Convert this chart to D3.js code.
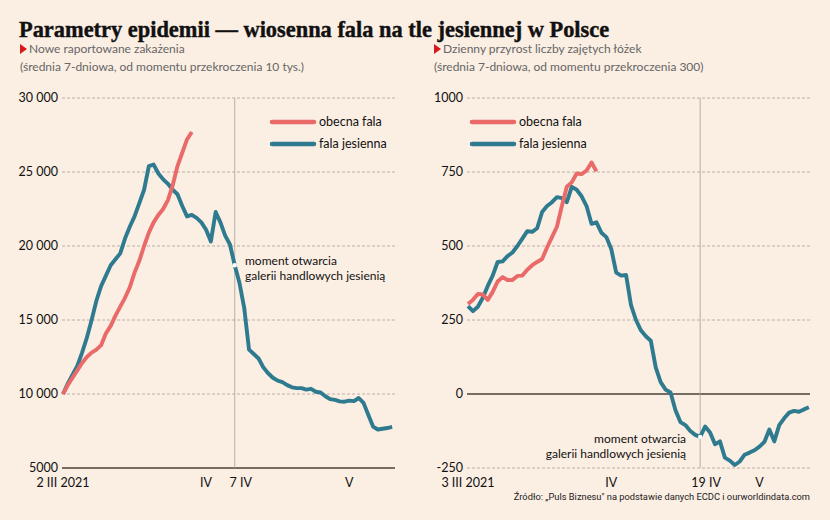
<!DOCTYPE html>
<html>
<head>
<meta charset="utf-8">
<script src="https://cdn.jsdelivr.net/npm/d3@7"></script>
<style>
  body { margin: 0; background: #fbeee3; }
  text { font-family: Lato, 'Noto Sans', sans-serif; }
</style>
</head>
<body>
<div id="chart"></div>
<script>
// daily values, 7-day average, from the day the threshold was crossed
const casesSpring = [10000, 10600, 11100, 11600, 12100, 12500, 12800, 13000, 13300, 14100,
  14600, 15300, 15900, 16500, 17200, 18200, 19000, 20000, 20900, 21600,
  22100, 22500, 23100, 24100, 25400, 26300, 27200, 27700];
const casesAutumn = [10000, 10700, 11300, 11900, 12800, 13800, 15000, 16300, 17300, 18000,
  18700, 19100, 19500, 20500, 21300, 22000, 22900, 23800, 25400, 25500,
  24900, 24500, 24200, 23800, 23500, 22700, 22000, 22100, 21900, 21600,
  21100, 20300, 22300, 21600, 20700, 20100, 18700, 17500, 15800, 13000,
  12700, 12400, 11800, 11400, 11100, 10900, 10800, 10600, 10450, 10400,
  10400, 10300, 10350, 10150, 10100, 9850, 9650, 9600, 9500, 9480,
  9550, 9520, 9730, 9400, 8600, 7800, 7600, 7650, 7700, 7780];

const bedsSpring = [304, 318, 338, 336, 318, 345, 380, 395, 385, 385,
  399, 400, 420, 435, 446, 456, 495, 530, 565, 635,
  700, 715, 745, 743, 755, 782, 752];
const bedsAutumn = [297, 280, 295, 325, 365, 400, 446, 448, 466, 478,
  500, 525, 550, 548, 560, 615, 635, 648, 665, 662,
  648, 700, 690, 668, 635, 575, 580, 545, 530, 490,
  410, 400, 402, 300, 250, 215, 195, 180, 90, 40,
  15, 5, -55, -95, -105, -125, -138, -145, -110, -130,
  -170, -160, -215, -225, -240, -228, -205, -198, -190, -178,
  -162, -120, -160, -105, -82, -63, -57, -60, -52, -45];

const casesTicks = [5000, 10000, 15000, 20000, 25000, 30000];
const casesTickLabels = ['5000', '10 000', '15 000', '20 000', '25 000', '30 000'];
const bedsTicks = [-250, 0, 250, 500, 750, 1000];
const bedsTickLabels = ['-250', '0', '250', '500', '750', '1000'];

const casesDates = ['2021-03-02', '2021-04-01', '2021-04-07', '2021-05-01'];
const casesDateLabels = ['2 III 2021', 'IV', '7 IV', 'V'];
const bedsDates = ['2021-03-03', '2021-04-01', '2021-04-19', '2021-05-01'];
const bedsDateLabels = ['3 III 2021', 'IV', '19 IV', 'V'];

const seriesNames = ['obecna fala', 'fala jesienna'];

const red = '#e96a69';
const blue = '#2e7a8f';
const width = 830;
const height = 520;

const svg = d3.select('#chart')
  .append('svg')
  .attr('width', width)
  .attr('height', height);

svg.append('rect').attr('width', width).attr('height', height).attr('fill', '#fbeee3');

svg.append('text')
  .attr('x', 19).attr('y', 37)
  .style('font-family', "'Liberation Serif', 'DejaVu Serif', serif")
  .style('font-weight', 'bold')
  .style('font-size', '22.4px')
  .attr('fill', '#111')
  .attr('stroke', '#111').attr('stroke-width', 0.4)
  .text('Parametry epidemii — wiosenna fala na tle jesiennej w Polsce');

svg.append('text')
  .attr('x', width - 20).attr('y', 500)
  .attr('text-anchor', 'end')
  .style('font-family', "'Liberation Sans Narrow', 'Roboto', sans-serif")
  .style('font-size', '9.3px')
  .attr('fill', '#222')
  .text('Źródło: „Puls Biznesu" na podstawie danych ECDC i ourworldindata.com');

const day = 24 * 3600 * 1000;

function panel(opt) {
  const g = svg.append('g');
  const start = new Date(opt.start);

  const x = d3.scaleTime()
    .domain([start, new Date(+start + 70 * day)])
    .range([opt.x0, opt.x0 + 70 * opt.pxDay]);
  const y = d3.scaleLinear().domain(opt.domain).range([468, 98]);

  // subtitle
  g.append('path')
    .attr('d', `M${opt.left},44 L${opt.left + 7},49 L${opt.left},54 Z`)
    .attr('fill', '#d7191c');
  g.append('text').attr('x', opt.left + 9).attr('y', 53)
    .style('font-size', '12px').attr('fill', '#666').text(opt.title);
  g.append('text').attr('x', opt.left).attr('y', 71)
    .style('font-size', '12px').attr('fill', '#666').text(opt.note);

  // grid
  g.selectAll('.grid')
    .data(opt.ticks)
    .enter()
    .append('line')
    .attr('x1', opt.gx0).attr('x2', opt.gx1)
    .attr('y1', (d) => y(d)).attr('y2', (d) => y(d))
    .attr('stroke', (d) => (d === opt.base ? '#4a403a' : '#aaa198'))
    .attr('stroke-width', (d) => (d === opt.base ? 1.5 : 0.8))
    .attr('stroke-dasharray', (d) => (d === opt.base ? null : '3,2'));

  g.selectAll('.ylab')
    .data(opt.ticks)
    .enter()
    .append('text')
    .attr('x', opt.gx0 - 4)
    .attr('y', (d) => y(d) + 4)
    .attr('text-anchor', 'end')
    .style('font-size', '12.5px')
    .attr('fill', '#111')
    .text((d, i) => opt.tickLabels[i]);

  // x labels
  g.selectAll('.xlab')
    .data(opt.dates)
    .enter()
    .append('text')
    .attr('x', (d, i) => x(new Date(d)) + (i === 2 ? 6 : 0))
    .attr('y', 487)
    .attr('text-anchor', 'middle')
    .style('font-size', '12.5px')
    .attr('fill', '#111')
    .text((d, i) => opt.dateLabels[i]);

  // opening of shopping malls
  const mark = new Date(opt.dates[2]);
  g.append('line')
    .attr('x1', x(mark)).attr('x2', x(mark))
    .attr('y1', 98).attr('y2', 468)
    .attr('stroke', '#a89f97').attr('stroke-width', 0.8);

  const line = d3.line()
    .x((d, i) => x(new Date(+start + i * day)))
    .y((d) => y(d));

  g.append('path').datum(opt.autumn)
    .attr('d', line).attr('fill', 'none')
    .attr('stroke', blue).attr('stroke-width', 3.9).attr('stroke-linejoin', 'round');
  g.append('path').datum(opt.spring)
    .attr('d', line).attr('fill', 'none')
    .attr('stroke', red).attr('stroke-width', 3.9).attr('stroke-linejoin', 'round');

  const mi = Math.round((mark - start) / day);
  g.append('circle')
    .attr('cx', x(mark)).attr('cy', y(opt.autumn[mi]))
    .attr('r', 2.2).attr('fill', '#fff');

  g.selectAll('.ann')
    .data(['moment otwarcia', 'galerii handlowych jesienią'])
    .enter()
    .append('text')
    .attr('x', opt.annX)
    .attr('y', (d, i) => opt.annY + i * 15)
    .attr('text-anchor', opt.annAnchor)
    .style('font-size', '12px')
    .attr('fill', '#111')
    .text((d) => d);

  // legend
  const leg = g.selectAll('.leg')
    .data(seriesNames)
    .enter()
    .append('g')
    .attr('transform', (d, i) => `translate(${opt.legX},${122 + i * 22})`);
  leg.append('line')
    .attr('x1', 0).attr('x2', 42)
    .attr('stroke', (d, i) => (i === 0 ? red : blue))
    .attr('stroke-width', 4.5).attr('stroke-linecap', 'round');
  leg.append('text')
    .attr('x', 47).attr('y', 4)
    .style('font-size', '12.5px')
    .attr('fill', '#111')
    .text((d) => d);
}

panel({
  start: casesDates[0], x0: 63, pxDay: 4.77, gx0: 62, gx1: 395,
  domain: [5000, 30000], ticks: casesTicks, tickLabels: casesTickLabels, base: 5000,
  dates: casesDates, dateLabels: casesDateLabels,
  spring: casesSpring, autumn: casesAutumn,
  left: 20, title: 'Nowe raportowane zakażenia',
  note: '(średnia 7-dniowa, od momentu przekroczenia 10 tys.)',
  annX: 245, annY: 265, annAnchor: 'start', legX: 272
});

panel({
  start: bedsDates[0], x0: 468, pxDay: 4.94, gx0: 467, gx1: 810,
  domain: [-250, 1000], ticks: bedsTicks, tickLabels: bedsTickLabels, base: 0,
  dates: bedsDates, dateLabels: bedsDateLabels,
  spring: bedsSpring, autumn: bedsAutumn,
  left: 434, title: 'Dzienny przyrost liczby zajętych łóżek',
  note: '(średnia 7-dniowa, od momentu przekroczenia 300)',
  annX: 686, annY: 443, annAnchor: 'end', legX: 472
});
</script>
</body>
</html>
